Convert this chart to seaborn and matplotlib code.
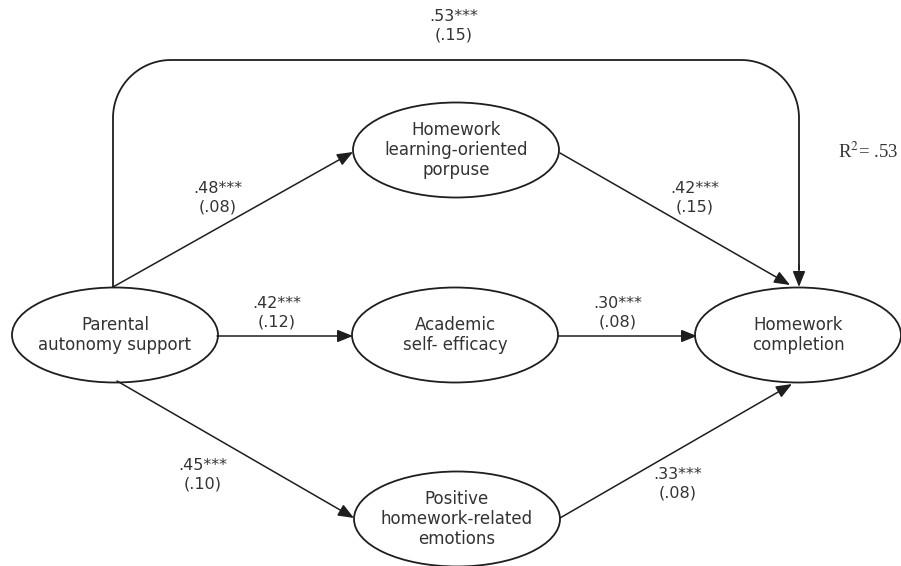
import numpy as np
import matplotlib
matplotlib.use("Agg")
import matplotlib.pyplot as plt
import seaborn as sns
from matplotlib.patches import Ellipse

# ---- model content -------------------------------------------------------
constructs = [
    "Parental\nautonomy support",
    "Homework\nlearning-oriented\nporpuse",
    "Academic\nself- efficacy",
    "Positive\nhomework-related\nemotions",
    "Homework\ncompletion",
]
# standardized path coefficients and their standard errors
path_from = [0, 0, 0, 1, 2, 3, 0]
path_to = [1, 2, 3, 4, 4, 4, 4]
coefficients = [".48", ".42", ".45", ".42", ".30", ".33", ".53"]
std_errors = ["(.08)", "(.12)", "(.10)", "(.15)", "(.08)", "(.08)", "(.15)"]
significance = ["***"] * 7
r_squared = ".53"

# ---- layout (pixel space, y pointing down) --------------------------------
node_xy = [(115, 335), (456, 150), (455, 335), (457, 519), (798, 335)]
node_w, node_h = 206, 95
# arrow start / end points on the ellipse rims
edge_pts = [
    ((113, 287), (353, 152)),
    ((217, 336), (353, 336)),
    ((117, 381), (354, 518)),
    ((560, 153), (790, 285)),
    ((558, 336), (697, 336)),
    ((560, 518), (792, 384)),
]
label_xy = [(218, 198), (277, 313), (203, 475), (695, 198), (618, 313), (678, 484), (454, 26)]
top_y, corner_r = 60, 58
left_x, right_x = 113, 799

sns.set_theme(style="white")
plt.rcParams["font.family"] = ["DejaVu Sans"]
plt.rcParams["mathtext.fontset"] = "stix"

ink = "#1e1e1e"
txt = "#333333"

fig = plt.figure(figsize=(9.01, 5.66), dpi=100)
ax = fig.add_axes([0, 0, 1, 1])
ax.set_xlim(0, 901)
ax.set_ylim(566, 0)
ax.set_axis_off()

# construct ellipses
for (cx, cy), name in zip(node_xy, constructs):
    ax.add_patch(Ellipse((cx, cy), node_w, node_h, facecolor="white",
                         edgecolor=ink, lw=1.3, zorder=2))
    ax.text(cx, cy, name, ha="center", va="center", fontsize=12,
            color=txt, linespacing=1.15, zorder=3)

arrow_props = dict(arrowstyle="-|>,head_length=0.95,head_width=0.38",
                   mutation_scale=10, color=ink, lw=1.1,
                   shrinkA=0, shrinkB=0)

# straight structural paths
for (p0, p1) in edge_pts:
    ax.annotate("", xy=p1, xytext=p0, arrowprops=arrow_props, zorder=4)

# direct effect drawn as a rounded bracket over the model
t = np.linspace(np.pi, np.pi / 2, 40)
lx = left_x + corner_r + corner_r * np.cos(t)
ly = top_y + corner_r - corner_r * np.sin(t)
t2 = np.linspace(np.pi / 2, 0, 40)
rx = right_x - corner_r + corner_r * np.cos(t2)
ry = top_y + corner_r - corner_r * np.sin(t2)
bx = np.concatenate([[left_x], lx, rx, [right_x]])
by = np.concatenate([[287], ly, ry, [270]])
ax.plot(bx, by, color=ink, lw=1.3, solid_capstyle="butt", zorder=4)
ax.annotate("", xy=(right_x, 287), xytext=(right_x, 265),
            arrowprops=arrow_props, zorder=4)

# coefficient labels
for (x, y), b, s, se in zip(label_xy, coefficients, significance, std_errors):
    ax.text(x, y, f"{b}{s}\n{se}", ha="center", va="center", fontsize=11.5,
            color=txt, linespacing=1.3, zorder=5)

ax.text(838, 152, "R$^{2}$= " + r_squared, ha="left", va="center",
        fontsize=13.5, family="Liberation Serif", color=txt)

fig.savefig("out.png", dpi=100, facecolor="white")
